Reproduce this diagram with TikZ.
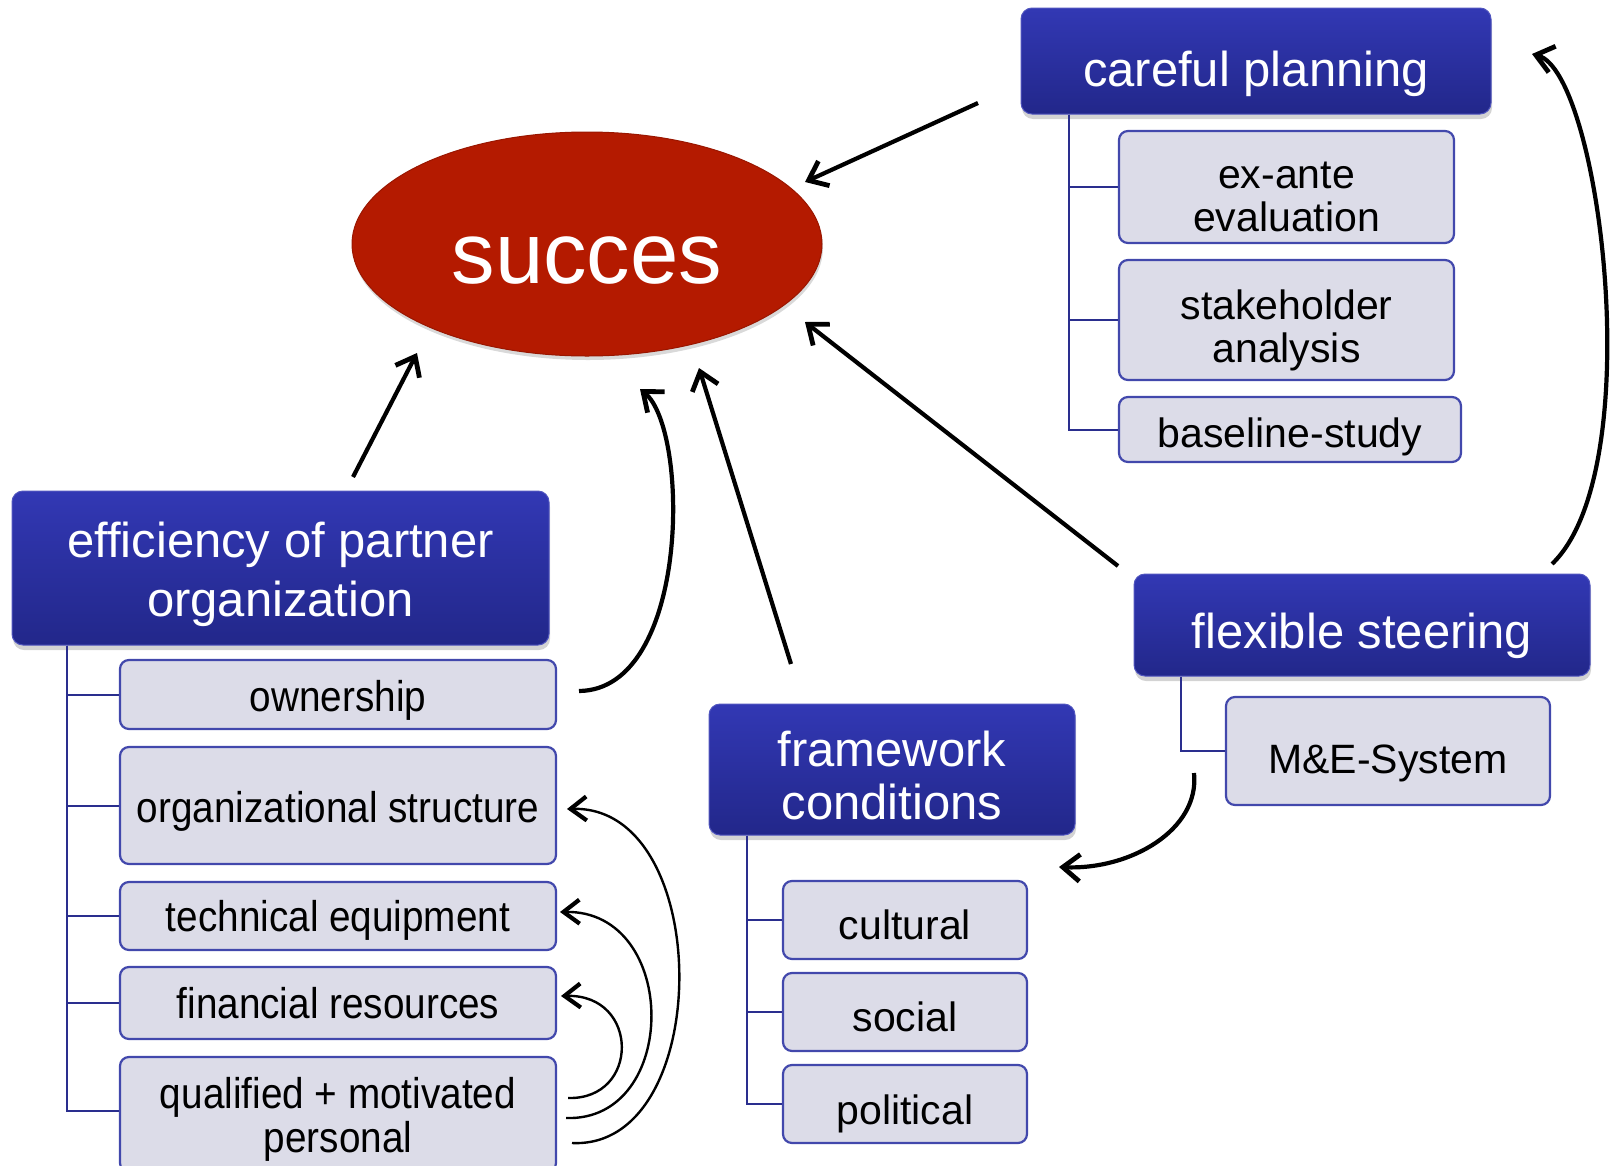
\documentclass[tikz,border=0pt]{standalone}
\usepackage{fontspec}
\setmainfont{Liberation Sans}
\newfontfamily\condfont{Liberation Sans}[FakeStretch=0.9]
\usetikzlibrary{arrows.meta,shadows,shapes.geometric}
\definecolor{hdtop}{RGB}{50,56,180}
\definecolor{hdbot}{RGB}{34,39,138}
\definecolor{subfill}{RGB}{220,220,232}
\definecolor{subedge}{RGB}{66,72,172}
\definecolor{treeblue}{RGB}{42,46,142}
\definecolor{succred}{RGB}{180,26,0}
\begin{document}
\begin{tikzpicture}[x=1pt,y=-1pt,
  header/.style={rounded corners=11pt, top color=hdtop, bottom color=hdbot,
    draw=hdtop!85!white, line width=1pt, text=white, align=center, inner sep=0pt,
    drop shadow={shadow xshift=1pt, shadow yshift=-5pt, opacity=0.35}},
  subbox/.style={rounded corners=9pt, fill=subfill, draw=subedge, line width=2.2pt,
    align=center, inner sep=0pt},
  tree/.style={draw=treeblue, line width=2pt},
  bigarrow/.style={line width=4.2pt, -{Straight Barb[length=17pt,width=27pt,line width=4.8pt]}},
  thinarrow/.style={line width=2.4pt, -{Straight Barb[length=16pt,width=24pt,line width=4.2pt]}},
  hfont/.style={font=\fontsize{49}{56}\selectfont},
  sfont/.style={font=\fontsize{41}{43}\selectfont},
  efont/.style={font=\condfont\fontsize{43}{44}\selectfont},
]
\useasboundingbox (0,0) rectangle (1612,1165);

% success ellipse
\node[ellipse, fill=succred, draw=succred!85!black, line width=1pt,
  minimum width=470pt, minimum height=224pt, inner sep=0pt,
  text=white, font=\fontsize{87}{90}\selectfont, text height=78pt, text depth=0pt,
  drop shadow={shadow xshift=1pt, shadow yshift=-4pt, opacity=0.3}]
  (succ) at (587,244) {succes};

% careful planning
\node[header, hfont, minimum width=470pt, minimum height=106pt, text height=50pt, text depth=0pt]
  (cp) at (1256,61) {careful planning};
\node[subbox, sfont, minimum width=335pt, minimum height=112pt] (exante) at (1286.5,187) {\rule{0pt}{46pt}ex-ante\\evaluation};
\node[subbox, sfont, minimum width=335pt, minimum height=120pt] (stake) at (1286.5,320) {\rule{0pt}{50pt}stakeholder\\analysis};
\node[subbox, sfont, minimum width=342pt, minimum height=65pt, text height=36pt, text depth=0pt]
  (base) at (1290,429.5) {baseline-study};
\draw[tree] ([xshift=48pt]cp.south west) |- (exante.west);
\draw[tree] ([xshift=48pt]cp.south west) |- (stake.west);
\draw[tree] ([xshift=48pt]cp.south west) |- (base.west);

% efficiency of partner organization
\node[header, font=\fontsize{49}{59}\selectfont, minimum width=537pt, minimum height=154pt]
  (eff) at (280.5,568) {\rule{0pt}{48pt}efficiency of partner\\organization};
\node[subbox, efont, minimum width=436pt, minimum height=69pt, text height=34pt, text depth=0pt]
  (own) at (338,694.5) {ownership};
\node[subbox, efont, minimum width=436pt, minimum height=117pt, text height=34pt, text depth=0pt]
  (org) at (338,805.5) {organizational structure};
\node[subbox, efont, minimum width=436pt, minimum height=68pt, text height=30pt, text depth=0pt]
  (tech) at (338,916) {technical equipment};
\node[subbox, efont, minimum width=436pt, minimum height=72pt, text height=30pt, text depth=0pt]
  (fin) at (338,1003) {financial resources};
\node[subbox, efont, minimum width=436pt, minimum height=115pt] (qual) at (338,1114.5) {\rule{0pt}{41pt}qualified + motivated\\personal};
\draw[tree] ([xshift=55pt]eff.south west) |- (own.west);
\draw[tree] ([xshift=55pt]eff.south west) |- (org.west);
\draw[tree] ([xshift=55pt]eff.south west) |- (tech.west);
\draw[tree] ([xshift=55pt]eff.south west) |- (fin.west);
\draw[tree] ([xshift=55pt]eff.south west) |- ([yshift=4pt]qual.west);

% framework conditions
\node[header, font=\fontsize{49}{53}\selectfont, minimum width=366pt, minimum height=131pt]
  (fw) at (892,769.5) {\rule{0pt}{48pt}framework\\conditions};
\node[subbox, sfont, minimum width=244pt, minimum height=78pt, text height=38pt, text depth=0pt]
  (cult) at (905,920) {cultural};
\node[subbox, sfont, minimum width=244pt, minimum height=78pt, text height=38pt, text depth=0pt]
  (soc) at (905,1012) {social};
\node[subbox, sfont, minimum width=244pt, minimum height=78pt, text height=40pt, text depth=0pt]
  (pol) at (905,1104) {political};
\draw[tree] ([xshift=38pt]fw.south west) |- (cult.west);
\draw[tree] ([xshift=38pt]fw.south west) |- (soc.west);
\draw[tree] ([xshift=38pt]fw.south west) |- (pol.west);

% flexible steering
\node[header, hfont, minimum width=456pt, minimum height=102pt, text height=46pt, text depth=0pt]
  (fs) at (1362,625) {flexible steering};
\node[subbox, sfont, minimum width=324pt, minimum height=108pt, text height=44pt, text depth=0pt]
  (me) at (1388,751) {M\&E-System};
\draw[tree] ([xshift=47pt]fs.south west) |- (me.west);

% arrow end coordinates
\coordinate (a1) at (978,103);   \coordinate (a2) at (805,182);
\coordinate (b1) at (353,477);   \coordinate (b2) at (417,353);
\coordinate (c1) at (579,691);   \coordinate (c2) at (640,389);
\coordinate (d1) at (791,664);   \coordinate (d2) at (699,368);
\coordinate (e1) at (1118,566);  \coordinate (e2) at (805,322);
\coordinate (f1) at (1552,564);  \coordinate (f2) at (1532,54);
\coordinate (g1) at (1194,773);  \coordinate (g2) at (1059,867);
\coordinate (h1) at (572,1143);  \coordinate (h2) at (567,809);
\coordinate (i1) at (566,1118);  \coordinate (i2) at (560,912);
\coordinate (j1) at (568,1098);  \coordinate (j2) at (561,996);

\draw[bigarrow] (a1) -- (a2);
\draw[bigarrow] (b1) -- (b2);
\draw[bigarrow] (c1) .. controls (690,690) and (690,430) .. (c2);
\draw[bigarrow] (d1) -- (d2);
\draw[bigarrow] (e1) -- (e2);
\draw[bigarrow] (f1) .. controls (1650,470) and (1600,72) .. (f2);
\draw[bigarrow] (g1) .. controls (1200,830) and (1130,870) .. (g2);
\draw[thinarrow] (h1) .. controls (715,1150) and (715,805) .. (h2);
\draw[thinarrow] (i1) .. controls (680,1122) and (680,910) .. (i2);
\draw[thinarrow] (j1) .. controls (640,1100) and (640,994) .. (j2);
\end{tikzpicture}
\end{document}
